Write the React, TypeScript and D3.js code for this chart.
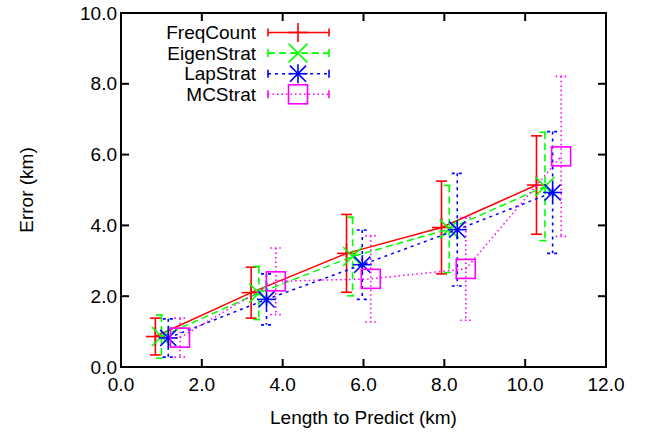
import React from "react";
import * as d3 from "d3";

const seriesNames = ["FreqCount", "EigenStrat", "LapStrat", "MCStrat"];
const colors = ["#ff0000", "#00ff00", "#0000ff", "#ff00ff"];
const dashes = ["", "7,4", "3,4", "1.5,3"];

const freqX = [0.85, 3.22, 5.58, 7.93, 10.28];
const freqY = [0.86, 2.10, 3.21, 3.94, 5.14];
const freqE = [0.52, 0.72, 1.10, 1.31, 1.39];

const eigenX = [1.0, 3.41, 5.73, 8.12, 10.49];
const eigenY = [0.86, 2.09, 3.12, 3.90, 5.10];
const eigenE = [0.61, 0.75, 1.11, 1.23, 1.53];

const lapX = [1.17, 3.6, 5.97, 8.32, 10.68];
const lapY = [0.82, 1.91, 2.89, 3.88, 4.93];
const lapE = [0.54, 0.72, 0.98, 1.59, 1.72];

const mcX = [1.46, 3.83, 6.18, 8.53, 10.89];
const mcY = [0.83, 2.42, 2.49, 2.77, 5.95];
const mcE = [0.55, 0.94, 1.22, 1.45, 2.26];

const xTicks = [0, 2, 4, 6, 8, 10, 12];
const yTicks = [0, 2, 4, 6, 8, 10];

const allX = [freqX, eigenX, lapX, mcX];
const allY = [freqY, eigenY, lapY, mcY];
const allE = [freqE, eigenE, lapE, mcE];

const L = 121, R = 606, T = 13, B = 367;
const FONT = "'Liberation Sans', Arial, sans-serif";

function Marker({ kind, cx, cy, color }: { kind: number; cx: number; cy: number; color: string }) {
  const s = 9.5;
  const sw = 1.6;
  if (kind === 0)
    return (
      <g stroke={color} strokeWidth={sw}>
        <line x1={cx - s} y1={cy} x2={cx + s} y2={cy} />
        <line x1={cx} y1={cy - s} x2={cx} y2={cy + s} />
      </g>
    );
  if (kind === 1) {
    const k = s;
    return (
      <g stroke={color} strokeWidth={sw}>
        <line x1={cx - k} y1={cy - k} x2={cx + k} y2={cy + k} />
        <line x1={cx - k} y1={cy + k} x2={cx + k} y2={cy - k} />
      </g>
    );
  }
  if (kind === 2) {
    const k = s * 0.85;
    return (
      <g stroke={color} strokeWidth={sw}>
        <line x1={cx - s} y1={cy} x2={cx + s} y2={cy} />
        <line x1={cx} y1={cy - s} x2={cx} y2={cy + s} />
        <line x1={cx - k} y1={cy - k} x2={cx + k} y2={cy + k} />
        <line x1={cx - k} y1={cy + k} x2={cx + k} y2={cy - k} />
      </g>
    );
  }
  return <rect x={cx - s} y={cy - s} width={2 * s} height={2 * s} fill="none" stroke={color} strokeWidth={sw} />;
}

export default function App() {
  const x = d3.scaleLinear().domain([0, 12]).range([L, R]);
  const y = d3.scaleLinear().domain([0, 10]).range([B, T]);
  const line = d3
    .line<[number, number]>()
    .x((d) => x(d[0]))
    .y((d) => y(d[1]));
  const cap = 5.5;
  const legX = 256;
  const legLine0 = 268;
  const legLine1 = 329;
  const legMark = 298;

  return (
    <svg width={651} height={437} style={{ position: "absolute", left: 0, top: 0, fontFamily: FONT }}>
      <rect x={0} y={0} width={651} height={437} fill="#fff" />
      {seriesNames.map((name, i) => {
        const pts = allX[i].map((v, j) => [v, allY[i][j]] as [number, number]);
        return (
          <g key={name}>
            <path d={line(pts) || ""} fill="none" stroke={colors[i]} strokeWidth={1.5} strokeDasharray={dashes[i]} />
            {pts.map((p, j) => {
              const px = x(p[0]);
              const top = y(p[1] + allE[i][j]);
              const bot = y(p[1] - allE[i][j]);
              return (
                <g key={j} stroke={colors[i]} strokeWidth={1.6} strokeDasharray={dashes[i]}>
                  <line x1={px} y1={top} x2={px} y2={bot} />
                  <line x1={px - cap} y1={top} x2={px + cap} y2={top} strokeDasharray="" />
                  <line x1={px - cap} y1={bot} x2={px + cap} y2={bot} strokeDasharray="" />
                </g>
              );
            })}
            {pts.map((p, j) => (
              <Marker key={"m" + j} kind={i} cx={x(p[0])} cy={y(p[1])} color={colors[i]} />
            ))}
          </g>
        );
      })}
      {seriesNames.map((name, i) => {
        const ly = 32.5 + i * 20.6;
        return (
          <g key={"leg" + name}>
            <text x={legX} y={ly} dy="0.35em" textAnchor="end" fontSize={19} fill="#000">
              {name}
            </text>
            <g stroke={colors[i]} strokeWidth={1.6}>
              <line x1={legLine0} y1={ly} x2={legLine1} y2={ly} strokeDasharray={dashes[i]} />
              <line x1={legLine0} y1={ly - 4} x2={legLine0} y2={ly + 4} />
              <line x1={legLine1} y1={ly - 4} x2={legLine1} y2={ly + 4} />
            </g>
            <Marker kind={i} cx={legMark} cy={ly} color={colors[i]} />
          </g>
        );
      })}
      <g stroke="#000" strokeWidth={2}>
        {xTicks.map((t) => (
          <g key={"xt" + t}>
            <line x1={x(t)} y1={B} x2={x(t)} y2={B - 8} />
            <line x1={x(t)} y1={T} x2={x(t)} y2={T + 8} />
          </g>
        ))}
        {yTicks.map((t) => (
          <g key={"yt" + t}>
            <line x1={L} y1={y(t)} x2={L + 8} y2={y(t)} />
            <line x1={R} y1={y(t)} x2={R - 8} y2={y(t)} />
          </g>
        ))}
        <rect x={L} y={T} width={R - L} height={B - T} fill="none" />
      </g>
      {xTicks.map((t) => (
        <text key={"xl" + t} x={x(t)} y={B + 24} textAnchor="middle" fontSize={19} fill="#000">
          {t.toFixed(1)}
        </text>
      ))}
      {yTicks.map((t) => (
        <text key={"yl" + t} x={L - 4} y={y(t)} dy="0.35em" textAnchor="end" fontSize={19} fill="#000">
          {t.toFixed(1)}
        </text>
      ))}
      <text x={(L + R) / 2} y={424} textAnchor="middle" fontSize={19} fill="#000">
        Length to Predict (km)
      </text>
      <text
        transform={`translate(33, ${(T + B) / 2}) rotate(-90)`}
        textAnchor="middle"
        fontSize={19}
        fill="#000"
      >
        Error (km)
      </text>
    </svg>
  );
}
